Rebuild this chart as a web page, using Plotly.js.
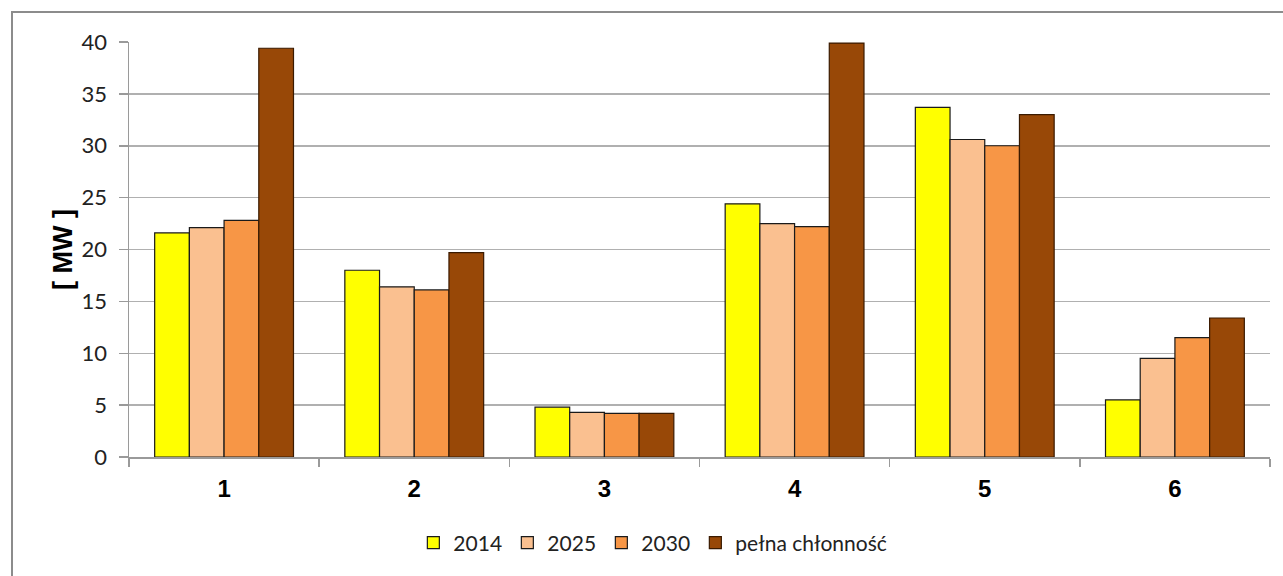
<!DOCTYPE html>
<html>
<head>
<meta charset="utf-8">
<script src="https://cdn.plot.ly/plotly-3.0.1.min.js"></script>
<style>html,body{margin:0;padding:0;background:#fff;}#chart{width:1283px;height:576px;}</style>
</head>
<body>
<div id="chart"></div>
<script>
const categories = ['1', '2', '3', '4', '5', '6'];
const seriesNames = ['2014', '2025', '2030', 'pełna chłonność'];
const v2014 = [21.6, 18.0, 4.8, 24.4, 33.7, 5.5];
const v2025 = [22.1, 16.4, 4.3, 22.5, 30.6, 9.5];
const v2030 = [22.8, 16.1, 4.2, 22.2, 30.0, 11.5];
const vFull = [39.4, 19.7, 4.2, 39.9, 33.0, 13.4];
const yTicks = [0, 5, 10, 15, 20, 25, 30, 35, 40];
const colors = ['#FFFF00', '#FAC090', '#F79646', '#984807'];
const legendWidths = [49, 49, 49, 170];
const values = [v2014, v2025, v2030, vFull];

const traces = values.map((v, i) => ({
  type: 'bar',
  name: seriesNames[i],
  x: categories,
  y: v,
  legendwidth: legendWidths[i],
  marker: {color: colors[i], line: {color: i === 3 ? '#3a1a00' : '#1a1a1a', width: 1.2}},
  hoverinfo: 'x+y'
}));

const layout = {
  width: 1283, height: 576,
  margin: {l: 129, r: 13, t: 42, b: 119},
  paper_bgcolor: '#ffffff', plot_bgcolor: '#ffffff',
  barmode: 'group', bargap: 0.27, bargroupgap: 0,
  showlegend: true,
  legend: {orientation: 'h', x: 0.467, xanchor: 'center', y: -0.207, yanchor: 'middle',
           font: {family: 'Lato, sans-serif', size: 21, color: '#222'}, traceorder: 'normal'},
  xaxis: {
    type: 'category', showline: true, linecolor: '#9a9a9a', linewidth: 1.5,
    ticks: 'outside', tickson: 'boundaries', ticklen: 8, tickcolor: '#9a9a9a', tickwidth: 1.5,
    ticklabelstandoff: 10,
    tickfont: {family: '"Liberation Sans", Arial, sans-serif', size: 24, color: '#000', weight: 'bold'},
    showgrid: false, zeroline: false
  },
  yaxis: {
    range: [0, 40], tickvals: yTicks, ticktext: yTicks.map(String),
    showline: true, linecolor: '#9a9a9a', linewidth: 1.5,
    ticks: 'outside', ticklen: 9, tickcolor: '#9a9a9a', tickwidth: 1.5,
    ticklabelstandoff: 7,
    showgrid: true, gridcolor: '#b0b0b0', gridwidth: 1.5, zeroline: false,
    tickfont: {family: 'Lato, sans-serif', size: 22, color: '#222'},
    title: {text: '[ MW ]', standoff: 1, font: {family: '"Liberation Sans", Arial, sans-serif', size: 27, color: '#000', weight: 'bold'}}
  },
  shapes: [{
    type: 'rect', xref: 'paper', yref: 'paper',
    x0: (12 - 129) / 1141, x1: 1.2, y0: -0.4, y1: (457 - 12) / 415,
    line: {color: '#8c8c8c', width: 2}, fillcolor: 'rgba(0,0,0,0)', layer: 'below'
  }]
};

Plotly.newPlot('chart', traces, layout, {displayModeBar: false, staticPlot: true});
</script>
</body>
</html>
